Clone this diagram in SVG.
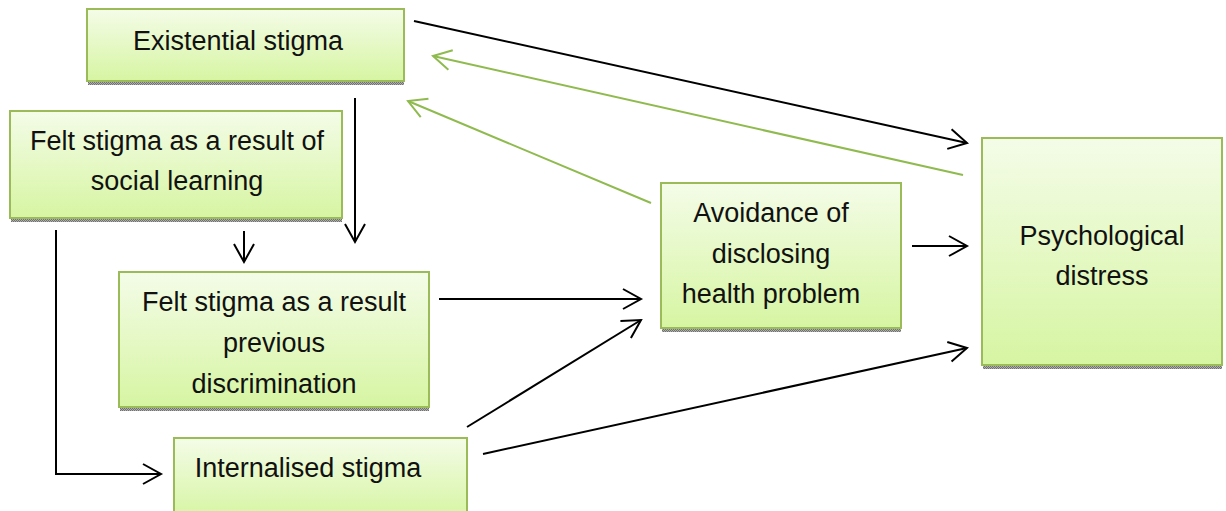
<svg xmlns="http://www.w3.org/2000/svg" width="1226" height="511" viewBox="0 0 1226 511">
<style>
.box{fill:url(#g);stroke:#9bbb59;stroke-width:2}
.sh{fill:url(#dots)}
.t{font-family:"Liberation Sans",Arial,sans-serif;font-size:27px;fill:#111;text-anchor:middle}
.k{fill:none;stroke:#000;stroke-width:2;marker-end:url(#ak)}
.gr{fill:none;stroke:#8fba4e;stroke-width:2;marker-end:url(#ag)}
</style>
<defs>
<linearGradient id="g" x1="0" y1="0" x2="0" y2="1">
<stop offset="0" stop-color="#f4fce8"/>
<stop offset="1" stop-color="#d6f5a2"/>
</linearGradient>
<pattern id="dots" width="2" height="2" patternUnits="userSpaceOnUse">
<rect width="2" height="2" fill="#b0b0b0"/>
<rect width="1" height="1" fill="#707070"/>
<rect x="1" y="1" width="1" height="1" fill="#707070"/>
</pattern>
<marker id="ak" markerUnits="userSpaceOnUse" markerWidth="24" markerHeight="24" refX="0" refY="0" viewBox="-20 -12 24 24" orient="auto" overflow="visible">
<path d="M-18,-10 L0,0 L-18,10" fill="none" stroke="#000" stroke-width="2"/>
</marker>
<marker id="ag" markerUnits="userSpaceOnUse" markerWidth="24" markerHeight="24" refX="0" refY="0" viewBox="-20 -12 24 24" orient="auto" overflow="visible">
<path d="M-18,-10 L0,0 L-18,10" fill="none" stroke="#8fba4e" stroke-width="2"/>
</marker>
</defs>

<g id="connectors">
<line class="k" x1="414" y1="21" x2="967" y2="143"/>
<line class="gr" x1="963" y1="175" x2="433" y2="56"/>
<line class="gr" x1="651" y1="203" x2="408" y2="101"/>
<line class="k" x1="355" y1="98" x2="355" y2="242"/>
<line class="k" x1="244" y1="231" x2="244" y2="262"/>
<polyline class="k" points="56,230 56,474 161,474"/>
<line class="k" x1="439" y1="299" x2="641" y2="299"/>
<line class="k" x1="467" y1="427" x2="641" y2="320"/>
<line class="k" x1="483" y1="454" x2="967" y2="348"/>
<line class="k" x1="912" y1="246" x2="967" y2="246"/>
</g>

<g id="existential">
<rect class="sh" x="88" y="81" width="316" height="4"/>
<rect class="box" x="87" y="9" width="317" height="72"/>
<text class="t" x="238" y="50">Existential stigma</text>
</g>

<g id="felt-social">
<rect class="sh" x="11" y="218" width="331" height="4"/>
<rect class="box" x="10" y="111" width="332" height="107"/>
<text class="t" x="177" y="150">Felt stigma as a result of</text>
<text class="t" x="177" y="190">social learning</text>
</g>

<g id="felt-previous">
<rect class="sh" x="120" y="407" width="309" height="4"/>
<rect class="box" x="119" y="272" width="310" height="135"/>
<text class="t" x="274" y="311">Felt stigma as a result</text>
<text class="t" x="274" y="352">previous</text>
<text class="t" x="274" y="393">discrimination</text>
</g>

<g id="internalised">
<rect class="box" x="174" y="438" width="293" height="80"/>
<text class="t" x="308" y="477">Internalised stigma</text>
</g>

<g id="avoidance">
<rect class="sh" x="662" y="328" width="239" height="4"/>
<rect class="box" x="661" y="183" width="240" height="145"/>
<text class="t" x="771" y="222">Avoidance of</text>
<text class="t" x="771" y="263">disclosing</text>
<text class="t" x="771" y="303">health problem</text>
</g>

<g id="psychological">
<rect class="sh" x="983" y="365" width="239" height="4"/>
<rect class="box" x="982" y="138" width="240" height="227"/>
<text class="t" x="1102" y="245">Psychological</text>
<text class="t" x="1102" y="285">distress</text>
</g>
</svg>
